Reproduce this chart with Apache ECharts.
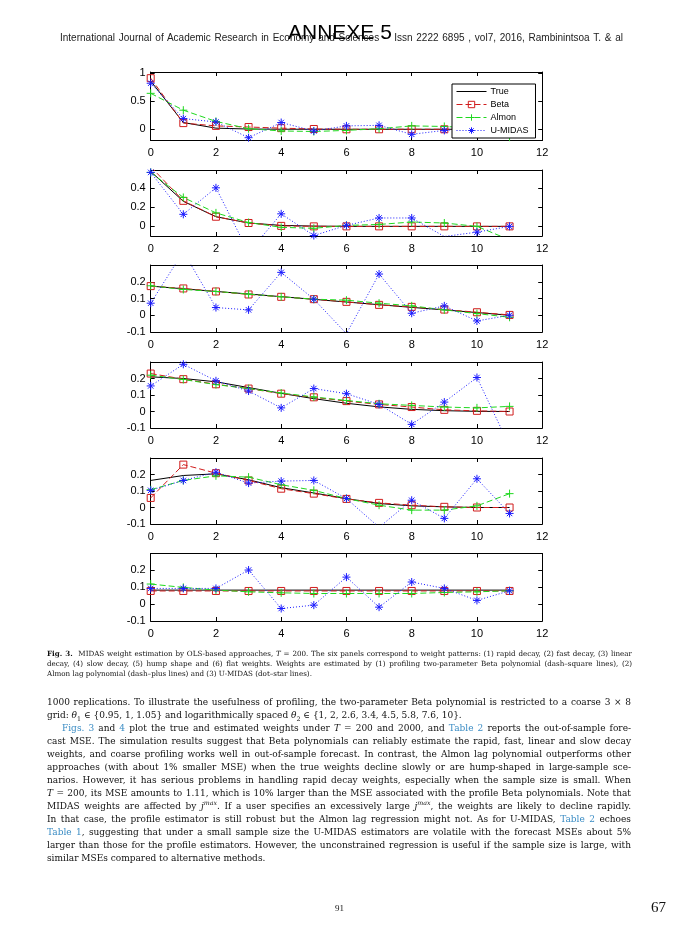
<!DOCTYPE html>
<html>
<head>
<meta charset="utf-8">
<script src="https://cdn.jsdelivr.net/npm/echarts@6/dist/echarts.min.js"></script>
<style>
  html, body { margin: 0; padding: 0; background: #fff; }
  #page { position: relative; width: 681px; height: 929px; overflow: hidden; background: #fff; }
  #chart { position: absolute; left: 0; top: 0; width: 681px; height: 929px; }
  .ln { position: absolute; white-space: nowrap; color: #111; pointer-events: none; }
  .body { font-family: "DejaVu Serif", serif; font-size: 8.5px; line-height: 13px; height: 13px; }
  .cap { font-family: "DejaVu Serif", serif; font-size: 6.7px; line-height: 10px; height: 10px; }
  .lk { color: #3a8cc4; }
  sub, sup { font-size: 70%; line-height: 0; }
</style>
</head>
<body>
<div id="page">
  <div id="chart"></div>
</div>
<script>
// ---------------- data ----------------
const lags = [0, 1, 2, 3, 4, 5, 6, 7, 8, 9, 10, 11];
const xTickLabels = [0, 2, 4, 6, 8, 10, 12];
const seriesNames = ['True', 'Beta', 'Almon', 'U-MIDAS'];

// (1) rapid decay
const trueRapid   = [0.86, 0.12, 0.02, 0.004, 0.001, 0, 0, 0, 0, 0, 0, 0];
const betaRapid   = [0.91, 0.11, 0.06, 0.04, 0.02, 0.005, 0, 0, 0, 0, 0, 0];
const almonRapid  = [0.64, 0.34, 0.14, 0.01, -0.03, -0.04, -0.02, 0.01, 0.06, 0.05, 0.02, -0.14];
const umidasRapid = [0.82, 0.19, 0.13, -0.15, 0.12, -0.03, 0.06, 0.07, -0.09, -0.02, 0.03, -0.02];
// (2) fast decay
const trueFast   = [0.57, 0.26, 0.10, 0.035, 0.01, 0.003, 0, 0, 0, 0, 0, 0];
const betaFast   = [0.62, 0.265, 0.10, 0.035, 0.005, 0, 0, 0, 0, 0, 0, 0];
const almonFast  = [0.56, 0.30, 0.14, 0.04, -0.01, -0.02, 0.01, 0.02, 0.045, 0.035, 0, -0.14];
const umidasFast = [0.56, 0.125, 0.40, -0.27, 0.13, -0.095, 0.01, 0.087, 0.087, -0.105, -0.06, 0];
// (3) linear decay
const trueLinear   = [0.174, 0.158, 0.142, 0.127, 0.111, 0.095, 0.079, 0.063, 0.047, 0.032, 0.016, 0];
const betaLinear   = [0.174, 0.16, 0.142, 0.124, 0.11, 0.096, 0.08, 0.062, 0.05, 0.034, 0.018, 0.002];
const almonLinear  = [0.176, 0.154, 0.142, 0.126, 0.11, 0.096, 0.09, 0.072, 0.056, 0.032, 0.01, -0.012];
const umidasLinear = [0.072, 0.38, 0.046, 0.032, 0.256, 0.096, -0.11, 0.246, 0.012, 0.056, -0.034, 0];
// (4) slow decay
const trueSlow   = [0.21, 0.2, 0.18, 0.145, 0.11, 0.078, 0.05, 0.028, 0.013, 0.005, 0.001, 0];
const betaSlow   = [0.23, 0.196, 0.165, 0.139, 0.108, 0.086, 0.063, 0.043, 0.027, 0.01, 0.004, 0];
const almonSlow  = [0.22, 0.194, 0.163, 0.139, 0.112, 0.088, 0.067, 0.047, 0.037, 0.027, 0.022, 0.031];
const umidasSlow = [0.155, 0.286, 0.186, 0.124, 0.022, 0.139, 0.108, 0.043, -0.078, 0.057, 0.206, -0.21];
// (5) hump shape
const trueHump   = [0.164, 0.194, 0.204, 0.168, 0.12, 0.088, 0.054, 0.024, 0.01, 0.004, 0, 0];
const betaHump   = [0.058, 0.26, 0.208, 0.164, 0.114, 0.084, 0.052, 0.028, 0.014, 0.004, 0, 0];
const almonHump  = [0.108, 0.164, 0.192, 0.184, 0.138, 0.104, 0.054, 0.014, -0.016, -0.016, 0.01, 0.084];
const umidasHump = [0.104, 0.164, 0.214, 0.148, 0.16, 0.164, 0.054, -0.12, 0.044, -0.066, 0.174, -0.036];
// (6) flat weights
const trueFlat   = [0.083, 0.083, 0.083, 0.083, 0.083, 0.083, 0.083, 0.083, 0.083, 0.083, 0.083, 0.083];
const betaFlat   = [0.078, 0.078, 0.078, 0.078, 0.078, 0.078, 0.078, 0.078, 0.078, 0.078, 0.078, 0.078];
const almonFlat  = [0.119, 0.099, 0.083, 0.073, 0.067, 0.063, 0.063, 0.063, 0.063, 0.069, 0.073, 0.079];
const umidasFlat = [0.093, 0.093, 0.093, 0.202, -0.026, -0.006, 0.16, -0.018, 0.131, 0.093, 0.022, 0.079];

const yTicksRapid = [0, 0.5, 1];
const yTicksFast = [0, 0.2, 0.4];
const yTicksOther = [-0.1, 0, 0.1, 0.2];

// ---------------- layout / style ----------------
const panels = [
  { top: 72,  height: 68.5, min: -0.2, max: 1.02,  ticks: yTicksRapid, data: [trueRapid, betaRapid, almonRapid, umidasRapid] },
  { top: 170, height: 66,   min: -0.1, max: 0.585, ticks: yTicksFast,  data: [trueFast, betaFast, almonFast, umidasFast] },
  { top: 265, height: 67,   min: -0.1, max: 0.3,   ticks: yTicksOther, data: [trueLinear, betaLinear, almonLinear, umidasLinear] },
  { top: 362, height: 66,   min: -0.1, max: 0.3,   ticks: yTicksOther, data: [trueSlow, betaSlow, almonSlow, umidasSlow] },
  { top: 458, height: 66,   min: -0.1, max: 0.3,   ticks: yTicksOther, data: [trueHump, betaHump, almonHump, umidasHump] },
  { top: 553.5, height: 67.5, min: -0.1, max: 0.3, ticks: yTicksOther, data: [trueFlat, betaFlat, almonFlat, umidasFlat] }
];
const GRID_LEFT = 150.7, GRID_W = 391.5;
const C_BLACK = '#000000', C_RED = '#d01c1c', C_GREEN = '#1fd81f', C_BLUE = '#1a1aff';
const PLUS = 'path://M5,0L5,10M0,5L10,5';
const STAR = 'path://M5,0L5,10M0,5L10,5M1.6,1.6L8.4,8.4M8.4,1.6L1.6,8.4';

const styles = [
  { color: C_BLACK, lineType: 'solid', symbol: 'none', size: 0 },
  { color: C_RED, lineType: [6, 3], symbol: 'rect', size: 7 },
  { color: C_GREEN, lineType: [6, 3], symbol: PLUS, size: 8 },
  { color: C_BLUE, lineType: [1, 2], symbol: STAR, size: 8 }
];

const axisLineStyle = { color: '#000', width: 1 };
const labelFont = { color: '#000', fontSize: 11, fontFamily: 'Liberation Sans, Arial, sans-serif' };

const grid = [], xAxis = [], yAxis = [], series = [];
panels.forEach((p, i) => {
  grid.push({ left: GRID_LEFT, width: GRID_W, top: p.top, height: p.height, containLabel: false });
  xAxis.push({
    type: 'value', gridIndex: i, position: 'bottom', min: 0, max: 12, interval: 2,
    axisLine: { show: true, onZero: false, lineStyle: axisLineStyle },
    axisTick: { show: true, inside: true, length: 4, lineStyle: axisLineStyle },
    axisLabel: Object.assign({ show: true, margin: 7, customValues: xTickLabels }, labelFont),
    splitLine: { show: false }
  });
  xAxis.push({
    type: 'value', gridIndex: i, position: 'top', min: 0, max: 12, interval: 2,
    axisLine: { show: true, onZero: false, lineStyle: axisLineStyle },
    axisTick: { show: true, inside: true, length: 4, lineStyle: axisLineStyle },
    axisLabel: { show: false }, splitLine: { show: false }
  });
  yAxis.push({
    type: 'value', gridIndex: i, position: 'left', min: p.min, max: p.max,
    axisLine: { show: true, onZero: false, lineStyle: axisLineStyle },
    axisTick: { show: true, inside: true, length: 4, lineStyle: axisLineStyle, customValues: p.ticks },
    axisLabel: Object.assign({ show: true, margin: 5, customValues: p.ticks }, labelFont),
    splitLine: { show: false }
  });
  yAxis.push({
    type: 'value', gridIndex: i, position: 'right', min: p.min, max: p.max,
    axisLine: { show: true, onZero: false, lineStyle: axisLineStyle },
    axisTick: { show: true, inside: true, length: 4, lineStyle: axisLineStyle, customValues: p.ticks },
    axisLabel: { show: false }, splitLine: { show: false }
  });
  p.data.forEach((arr, k) => {
    const st = styles[k];
    series.push({
      name: seriesNames[k], type: 'line',
      xAxisIndex: 2 * i, yAxisIndex: 2 * i,
      data: lags.map((x, j) => [x, arr[j]]),
      symbol: st.symbol, symbolSize: st.size, showSymbol: st.symbol !== 'none', showAllSymbol: true,
      lineStyle: { color: st.color, width: 1, type: st.lineType },
      itemStyle: { color: 'rgba(255,255,255,0)', borderColor: st.color, borderWidth: 1 },
      emphasis: { disabled: true }, silent: true, clip: true, z: 2 + k
    });
  });
});

const legendData = seriesNames.map((n, k) => {
  const st = styles[k];
  const ls = { color: st.color, width: 1, type: st.lineType, opacity: 1 };
  if (st.symbol === 'none') {
    return { name: n, lineStyle: ls, itemStyle: { color: 'rgba(0,0,0,0)', borderColor: 'rgba(0,0,0,0)', borderWidth: 0 } };
  }
  return { name: n, lineStyle: ls, itemStyle: { color: 'rgba(255,255,255,0)', borderColor: st.color, borderWidth: 1, opacity: 1 } };
});

const chart = echarts.init(document.getElementById('chart'), null, { renderer: 'canvas' });
chart.setOption({
  animation: false,
  backgroundColor: '#fff',
  grid, xAxis, yAxis, series,
  legend: {
    data: legendData, orient: 'vertical', left: 452, top: 84, z: 30, zlevel: 0,
    itemWidth: 30, itemHeight: 8, itemGap: 4, padding: [3, 7, 3, 4],
    backgroundColor: '#fff', borderColor: '#000', borderWidth: 1, borderRadius: 0,
    selectedMode: false,
    textStyle: { color: '#000', fontSize: 9, fontFamily: 'Liberation Sans, Arial, sans-serif', padding: [0, 0, 0, -1] }
  }
});

// ---------------- text of the page ----------------
const page = document.getElementById('page');
function makeLine(cls, html, x, cy, lh) {
  const d = document.createElement('div');
  d.className = 'ln ' + cls;
  d.style.left = x + 'px';
  d.style.top = (cy - lh / 2) + 'px';
  d.innerHTML = '<span>' + html + '</span>';
  page.appendChild(d);
  return d;
}
function justify(d, width) {
  d.style.wordSpacing = '0px';
  const sp = d.firstElementChild;
  const nat = sp.getBoundingClientRect().width;
  const n = (sp.textContent.match(/[ \u00a0]/g) || []).length;
  if (n) d.style.wordSpacing = ((width - nat) / n) + 'px';
}
function fitFont(d, width, ratio) {
  const sp = d.firstElementChild;
  const fs = parseFloat(getComputedStyle(d).fontSize);
  const nat = sp.getBoundingClientRect().width;
  return fs * width * ratio / nat;
}

// header
const hdr = makeLine('', 'International Journal of Academic Research in Economy and Sciences&nbsp;&nbsp;&nbsp;&nbsp;Issn 2222 6895 , vol7, 2016, Rambinintsoa T. &amp; al', 60, 38, 12);
hdr.style.fontFamily = 'Liberation Sans, Arial, sans-serif'; hdr.style.fontSize = '10px'; hdr.style.lineHeight = '12px'; hdr.style.color = '#222';
justify(hdr, 563);
const ann = makeLine('', 'ANNEXE 5', 288, 32, 24);
ann.style.fontFamily = 'Liberation Sans, Arial, sans-serif'; ann.style.fontSize = '21px'; ann.style.lineHeight = '24px'; ann.style.color = '#000';

// caption
const capLines = [
  ['<b>Fig. 3.</b>&nbsp; MIDAS weight estimation by OLS-based approaches, <i>T</i> = 200. The six panels correspond to weight patterns: (1) rapid decay, (2) fast decay, (3) linear', true],
  ['decay, (4) slow decay, (5) hump shape and (6) flat weights. Weights are estimated by (1) profiling two-parameter Beta polynomial (dash–square lines), (2)', true],
  ['Almon lag polynomial (dash–plus lines) and (3) U-MIDAS (dot–star lines).', false]
];
const capDivs = capLines.map((c, i) => makeLine('cap', c[0], 47, 654 + 10 * i, 10));
const capFs = fitFont(capDivs[1], 585, 0.95);
capDivs.forEach((d, i) => { d.style.fontSize = capFs + 'px'; if (capLines[i][1]) justify(d, 585); });

// body
const bodyLines = [
  ['1000 replications. To illustrate the usefulness of profiling, the two-parameter Beta polynomial is restricted to a coarse 3 × 8', true, 47],
  ['grid: <i>θ</i><sub>1</sub> ∈ {0.95, 1, 1.05} and logarithmically spaced <i>θ</i><sub>2</sub> ∈ {1, 2, 2.6, 3.4, 4.5, 5.8, 7.6, 10}.', false, 47],
  ['<span class="lk">Figs. 3</span> and <span class="lk">4</span> plot the true and estimated weights under <i>T</i> = 200 and 2000, and <span class="lk">Table 2</span> reports the out-of-sample fore-', true, 62],
  ['cast MSE. The simulation results suggest that Beta polynomials can reliably estimate the rapid, fast, linear and slow decay', true, 47],
  ['weights, and coarse profiling works well in out-of-sample forecast. In contrast, the Almon lag polynomial outperforms other', true, 47],
  ['approaches (with about 1% smaller MSE) when the true weights decline slowly or are hump-shaped in large-sample sce-', true, 47],
  ['narios. However, it has serious problems in handling rapid decay weights, especially when the sample size is small. When', true, 47],
  ['<i>T</i> = 200, its MSE amounts to 1.11, which is 10% larger than the MSE associated with the profile Beta polynomials. Note that', true, 47],
  ['MIDAS weights are affected by <i>j</i><sup><i>max</i></sup>. If a user specifies an excessively large <i>j</i><sup><i>max</i></sup>, the weights are likely to decline rapidly.', true, 47],
  ['In that case, the profile estimator is still robust but the Almon lag regression might not. As for U-MIDAS, <span class="lk">Table 2</span> echoes', true, 47],
  ['<span class="lk">Table 1</span>, suggesting that under a small sample size the U-MIDAS estimators are volatile with the forecast MSEs about 5%', true, 47],
  ['larger than those for the profile estimators. However, the unconstrained regression is useful if the sample size is large, with', true, 47],
  ['similar MSEs compared to alternative methods.', false, 47]
];
const bodyDivs = bodyLines.map((b, i) => makeLine('body', b[0], b[2], 702 + 13 * i, 13));
let fsSum = 0, fsN = 0;
bodyDivs.forEach((d, i) => { if (bodyLines[i][1]) { fsSum += fitFont(d, 631 - bodyLines[i][2], 0.96); fsN++; } });
const bodyFs = fsSum / fsN;
bodyDivs.forEach((d, i) => { d.style.fontSize = bodyFs + 'px'; if (bodyLines[i][1]) justify(d, 631 - bodyLines[i][2]); });

// footer page numbers
const f1 = makeLine('', '91', 335, 908, 12);
f1.style.fontFamily = 'Liberation Serif, serif'; f1.style.fontSize = '9px'; f1.style.lineHeight = '12px';
const f2 = makeLine('', '67', 651, 907, 18);
f2.style.fontFamily = 'Liberation Serif, serif'; f2.style.fontSize = '15px'; f2.style.lineHeight = '18px';
</script>
</body>
</html>
